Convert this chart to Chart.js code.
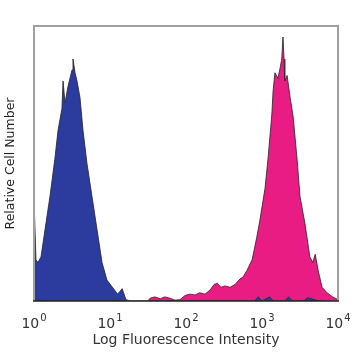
<!DOCTYPE html>
<html>
<head>
<meta charset="utf-8">
<script src="https://cdn.jsdelivr.net/npm/chart.js@4/dist/chart.umd.min.js"></script>
<style>
  html, body { margin: 0; padding: 0; background: #fff; }
  #wrap { width: 358px; height: 358px; position: relative; }
</style>
</head>
<body>
<div id="wrap"><canvas id="c" width="358" height="358"></canvas></div>
<script>
// Decade position (log10 of fluorescence intensity) and relative cell counts (% of max)
const blueLog   = [0.00, 0.005, 0.026, 0.053, 0.092, 0.145, 0.21, 0.276, 0.316, 0.368, 0.382, 0.408, 0.447, 0.50, 0.513, 0.54, 0.566, 0.605, 0.645, 0.697, 0.763, 0.829, 0.895, 0.96, 1.04, 1.10, 1.16, 1.21, 1.26, 2.90, 2.95, 3.00, 3.10, 3.15, 3.30, 3.35, 3.40, 3.55, 3.60, 3.75, 3.80];
const blueCount = [40, 33, 15, 14, 16, 26, 38, 52, 62, 70, 80, 72, 78, 84, 88, 83, 80, 74, 62, 50, 38, 26, 14, 7.6, 4.7, 2.5, 4.5, 0.5, 0, 0, 1.5, 0, 1.5, 0, 0, 1.5, 0, 0, 1.2, 0, 0];

const pinkLog   = [1.50, 1.526, 1.59, 1.66, 1.72, 1.79, 1.855, 1.92, 1.987, 2.05, 2.12, 2.18, 2.25, 2.316, 2.37, 2.41, 2.46, 2.51, 2.58, 2.645, 2.71, 2.75, 2.80, 2.87, 2.93, 2.97, 3.04, 3.08, 3.13, 3.145, 3.17, 3.21, 3.24, 3.26, 3.276, 3.29, 3.30, 3.33, 3.37, 3.41, 3.46, 3.50, 3.566, 3.63, 3.67, 3.70, 3.74, 3.79, 3.855, 3.93, 4.00];
const pinkCount = [0, 1, 1.5, 0.8, 1.5, 1, 0.3, 0.5, 2, 2.5, 2.2, 3, 2.5, 4, 6, 6.5, 5, 5.5, 5, 6, 8, 8.7, 11, 15, 23, 29, 41, 52, 68, 76, 83, 81, 85, 88, 96, 88, 80, 82, 74, 67, 52, 38, 28, 16, 14, 17, 11, 5, 3, 1.5, 0.5];

const decadeTicks = [0, 1, 2, 3, 4];
const tickBase = '10';
const tickExponents = ['0', '1', '2', '3', '4'];

const toXY = (xs, ys) => xs.map((x, i) => ({ x: x, y: ys[i] }));

const framePlugin = {
  id: 'frame',
  afterDraw(chart) {
    const a = chart.chartArea, ctx = chart.ctx;
    ctx.save();
    ctx.strokeStyle = '#a0a0a0';
    ctx.lineWidth = 2;
    ctx.beginPath();
    ctx.moveTo(a.left, a.bottom);
    ctx.lineTo(a.left, a.top);
    ctx.lineTo(a.right, a.top);
    ctx.lineTo(a.right, a.bottom);
    ctx.stroke();
    ctx.strokeStyle = '#222';
    ctx.lineWidth = 1.5;
    ctx.beginPath();
    ctx.moveTo(a.left - 1, a.bottom);
    ctx.lineTo(a.right + 1, a.bottom);
    ctx.stroke();

    // decade tick labels with superscript exponents, placed by the x scale
    const xs = chart.scales.x;
    const baseFont = '14px "DejaVu Sans"';
    const supFont = '10px "DejaVu Sans"';
    const baseY = a.bottom + 27;
    ctx.fillStyle = '#333';
    ctx.textBaseline = 'alphabetic';
    ctx.textAlign = 'left';
    decadeTicks.forEach((v, i) => {
      const px = xs.getPixelForValue(v);
      ctx.font = baseFont;
      const wb = ctx.measureText(tickBase).width;
      ctx.font = supFont;
      const we = ctx.measureText(tickExponents[i]).width;
      const start = px - (wb + we + 1) / 2;
      ctx.font = baseFont;
      ctx.fillText(tickBase, start, baseY);
      ctx.font = supFont;
      ctx.fillText(tickExponents[i], start + wb + 1, baseY - 7);
    });
    ctx.restore();
  }
};

new Chart(document.getElementById('c'), {
  type: 'line',
  data: {
    datasets: [
      {
        label: 'Blue',
        data: toXY(blueLog, blueCount),
        backgroundColor: '#2c3b9e',
        borderColor: 'rgba(40,40,50,0.85)',
        borderWidth: 1,
        pointRadius: 0,
        fill: 'origin',
        tension: 0
      },
      {
        label: 'Pink',
        data: toXY(pinkLog, pinkCount),
        backgroundColor: '#e91c83',
        borderColor: 'rgba(50,40,45,0.85)',
        borderWidth: 1,
        pointRadius: 0,
        fill: 'origin',
        tension: 0
      }
    ]
  },
  options: {
    responsive: false,
    animation: false,
    devicePixelRatio: 1,
    layout: { padding: { top: 26, right: 20, left: 0, bottom: 0 } },
    plugins: { legend: { display: false }, tooltip: { enabled: false } },
    scales: {
      x: {
        type: 'linear',
        min: 0, max: 4,
        afterBuildTicks: s => { s.ticks = decadeTicks.map(v => ({ value: v })); },
        afterFit: s => { s.height = 57; },
        grid: { display: false, drawTicks: false },
        border: { display: false },
        ticks: { display: false },
        title: {
          display: true,
          text: 'Log Fluorescence Intensity',
          color: '#333',
          font: { family: 'DejaVu Sans', size: 14 },
          padding: { top: 2, bottom: 9 }
        }
      },
      y: {
        min: 0, max: 100,
        afterFit: s => { s.width = 34; },
        grid: { display: false, drawTicks: false },
        border: { display: false },
        ticks: { display: false },
        title: {
          display: true,
          text: 'Relative Cell Number',
          color: '#222',
          font: { family: 'DejaVu Sans', size: 12.5 },
          padding: { top: 3, bottom: 4 }
        }
      }
    }
  },
  plugins: [framePlugin]
});
</script>
</body>
</html>
